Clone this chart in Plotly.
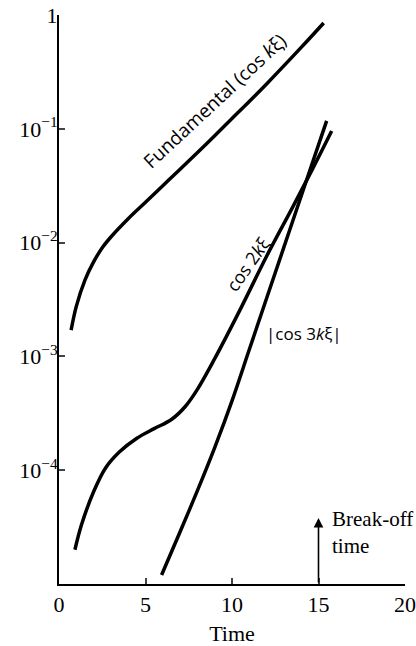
import math
import plotly.graph_objects as go

# ---- data ----
fund_x = [0.7, 1.0, 1.5, 2.0, 2.5, 3.0, 4.0, 5.0, 6.0, 7.0, 8.5, 10.0, 12.0, 14.0, 15.3]
fund_y = [1.70e-3, 2.75e-3, 4.68e-3, 6.76e-3, 9.02e-3, 1.12e-2, 1.62e-2, 2.26e-2, 3.16e-2,
          4.42e-2, 7.33e-2, 0.123, 0.248, 0.519, 0.851]

cos2_x = [0.92, 1.3, 2.0, 2.7, 3.5, 4.5, 5.5, 6.5, 7.3, 8.0, 9.0, 10.5, 12.0, 13.5, 14.7, 15.76]
cos2_y = [2.00e-5, 3.31e-5, 6.46e-5, 1.05e-4, 1.45e-4, 1.91e-4, 2.32e-4, 2.79e-4, 3.63e-4,
          5.13e-4, 9.55e-4, 2.63e-3, 7.59e-3, 2.04e-2, 4.57e-2, 9.55e-2]

cos3_x = [5.93, 7.0, 8.0, 9.0, 10.0, 11.0, 12.0, 13.0, 14.0, 15.47]
cos3_y = [1.20e-5, 2.88e-5, 6.61e-5, 1.58e-4, 4.07e-4, 1.15e-3, 3.24e-3, 9.12e-3, 2.57e-2, 0.1175]

x_ticks = [0, 5, 10, 15, 20]
y_tickvals = [1, 1e-1, 1e-2, 1e-3, 1e-4]
y_ticktext = ["1", "10<sup>\u22121</sup>", "10<sup>\u22122</sup>", "10<sup>\u22123</sup>", "10<sup>\u22124</sup>"]

breakoff_time = 15
breakoff_arrow = (1e-5, 10 ** -4.42)

serif = "Liberation Serif"
sans = "Open Sans"

fig = go.Figure()
line = dict(color="black", width=3.5, shape="spline", smoothing=1.0)
for xs, ys in [(fund_x, fund_y), (cos2_x, cos2_y), (cos3_x, cos3_y)]:
    fig.add_trace(go.Scatter(x=xs, y=ys, mode="lines", line=line, showlegend=False, hoverinfo="skip"))

annotations = [
    dict(x=9.0, y=-0.76, text="Fundamental (cos <i>k</i>\u03be)", textangle=-43,
         font=dict(family=sans, size=19, color="black")),
    dict(x=10.9, y=-2.185, text="cos 2<i>k</i>\u03be", textangle=-55,
         font=dict(family=sans, size=18, color="black")),
    dict(x=14.19, y=-2.80, text="|cos 3<i>k</i>\u03be|", textangle=0,
         font=dict(family=sans, size=17, color="black")),
    dict(x=15.66, y=-4.55, text="Break-off<br>time", xanchor="left", align="left",
         font=dict(family=serif, size=21, color="black")),
]
for a in annotations:
    a.update(xref="x", yref="y", showarrow=False)
# break-off arrow
annotations.append(dict(x=breakoff_time, y=math.log10(breakoff_arrow[1]), ax=breakoff_time,
                        ay=math.log10(breakoff_arrow[0]), xref="x", yref="y", axref="x", ayref="y",
                        text="", showarrow=True, arrowhead=2, arrowsize=1.2, arrowwidth=1.6,
                        arrowcolor="black"))

fig.update_layout(
    width=416, height=646,
    margin=dict(l=59, r=11, t=15, b=62, autoexpand=False),
    paper_bgcolor="white", plot_bgcolor="white",
    annotations=annotations,
    font=dict(family=serif, size=22, color="black"),
)
fig.update_xaxes(range=[0, 20], tickvals=x_ticks, ticks="inside", ticklen=6, tickwidth=2,
                 showline=True, linecolor="black", linewidth=2, showgrid=False, zeroline=False,
                 automargin=False, ticklabeloverflow="allow",
                 title=dict(text="Time", font=dict(family=serif, size=22), standoff=10),
                 tickfont=dict(family=serif, size=22))
fig.update_yaxes(type="log", range=[-5, 0], tickvals=y_tickvals, ticktext=y_ticktext,
                 ticks="inside", ticklen=6, tickwidth=2, showline=True, linecolor="black",
                 linewidth=2, showgrid=False, zeroline=False, automargin=False,
                 ticklabelstandoff=-5, tickfont=dict(family=serif, size=22))

fig.write_html("out.html", config={"displayModeBar": False},
               post_script="document.body.style.margin='0px';")
